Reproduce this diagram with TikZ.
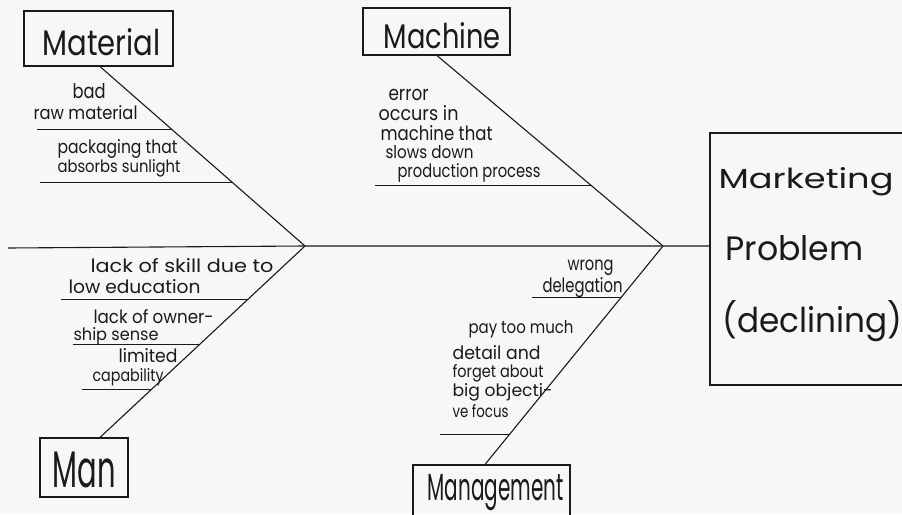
\documentclass[tikz,border=0pt]{standalone}
\usepackage{fontspec}
\setmainfont{Poppins}
\usetikzlibrary{calc}
\definecolor{paper}{HTML}{F7F7F5}
\definecolor{ink}{HTML}{1A1A1A}
\newcommand\fitw[3]{\resizebox{#1pt}{#2pt}{\vphantom{l}#3}}
\begin{document}
\begin{tikzpicture}[x=1pt,y=-1pt,
  line width=1.1pt, draw=ink, text=ink,
  catbox/.style={draw=ink, line width=1.1pt, inner sep=0pt},
  txt/.style={anchor=base west, inner sep=0pt, text=ink},
  bone/.style={draw=ink, line width=1.1pt},
  sub/.style={draw=ink, line width=1.1pt}]
\useasboundingbox (0,0) rectangle (902,514);
\fill[paper] (0,0) rectangle (902,514);

% boxes
\node[catbox, minimum width=149pt, minimum height=55pt] (mat) at (98.5,38.5) {};
\node[catbox, minimum width=147pt, minimum height=47pt] (mac) at (436.5,31.5) {};
\node[catbox, minimum width=88pt, minimum height=59pt] (man) at (84,467.5) {};
\node[catbox, minimum width=157pt, minimum height=70pt] (mgt) at (491.5,500) {};
\node[catbox, minimum width=220pt, minimum height=252pt] (eff) at (820,259) {};

% box labels
\node[txt] (matT) at (42,55) {\fitw{118}{27}{Material}};
\node[txt] (macT) at (383,48) {\fitw{117}{26}{Machine}};
\node[txt] (manT) at (52,487) {\fitw{63}{38}{Man}};
\node[txt] (mgtT) at (427,500) {\fitw{136}{28}{Management}};
\node[txt] (eff1) at (718,188) {\fitw{175}{21}{Marketing}};
\node[txt] (eff2) at (725,260) {\fitw{138}{25}{Problem}};
\node[txt] (eff3) at (722,332) {\fitw{180}{32}{(declining)}};

% spine and bones
\coordinate (tail) at (8,248);
\coordinate (J) at (305,246);
\coordinate (H) at (663,246);
\draw[bone] (tail) -- (J) -- (H) -- (H -| eff.west);
\draw[bone] (mat.south -| 100,0) -- (J)
  coordinate[pos=0.352] (m1) coordinate[pos=0.648] (m2);
\draw[bone] (J) -- (man.north -| 100,0)
  coordinate[pos=0.281] (n1) coordinate[pos=0.516] (n2) coordinate[pos=0.75] (n3);
\draw[bone] (mac.south -| 437,0) -- (H)
  coordinate[pos=0.681] (c1);
\draw[bone] (H) -- (mgt.north -| 485,0)
  coordinate[pos=0.237] (g1) coordinate[pos=0.863] (g2);

% sub-bones
\draw[sub] (m1) -- (m1 -| 37,0);
\draw[sub] (m2) -- (m2 -| 40,0);
\draw[sub] (n1) -- (n1 -| 61,0);
\draw[sub] (n2) -- (n2 -| 73,0);
\draw[sub] (n3) -- (n3 -| 82,0);
\draw[sub] (c1) -- (c1 -| 375,0);
\draw[sub] (g1) -- (g1 -| 532,0);
\draw[sub] (g2) -- (g2 -| 440,0);

% Material causes
\node[txt] (t1) at (72,98) {\fitw{33}{15}{bad}};
\node[txt] (t2) at (33,119) {\fitw{104}{14}{raw material}};
\node[txt] (t3) at (57,153) {\fitw{120}{14}{packaging that}};
\node[txt] (t4) at (57,172) {\fitw{123}{13}{absorbs sunlight}};
% Machine causes
\node[txt] (t5) at (388,100) {\fitw{40}{15}{error}};
\node[txt] (t6) at (378,120) {\fitw{80}{15}{occurs in}};
\node[txt] (t7) at (380,140) {\fitw{112}{15}{machine that}};
\node[txt] (t8) at (385,158) {\fitw{88}{13}{slows down}};
\node[txt] (t9) at (397,177) {\fitw{143}{14}{production process}};
% Man causes
\node[txt] (t10) at (90,272) {\fitw{183}{14}{lack of skill due to}};
\node[txt] (t11) at (68,293) {\fitw{132}{14}{low education}};
\node[txt] (t12) at (93,323) {\fitw{120}{14}{lack of owner-}};
\node[txt] (t13) at (73,340) {\fitw{85}{13}{ship sense}};
\node[txt] (t14) at (118,362) {\fitw{59}{14}{limited}};
\node[txt] (t15) at (92,381) {\fitw{71}{13}{capability}};
% Management causes
\node[txt] (t16) at (567,270) {\fitw{46}{14}{wrong}};
\node[txt] (t17) at (542,292) {\fitw{80}{15}{delegation}};
\node[txt] (t18) at (468,333) {\fitw{105}{13}{pay too much}};
\node[txt] (t19) at (452,359) {\fitw{88}{14}{detail and}};
\node[txt] (t20) at (452,377) {\fitw{91}{13}{forget about}};
\node[txt] (t21) at (452,396) {\fitw{100}{13}{big objecti-}};
\node[txt] (t22) at (452,417) {\fitw{56}{13}{ve focus}};
\end{tikzpicture}
\end{document}
